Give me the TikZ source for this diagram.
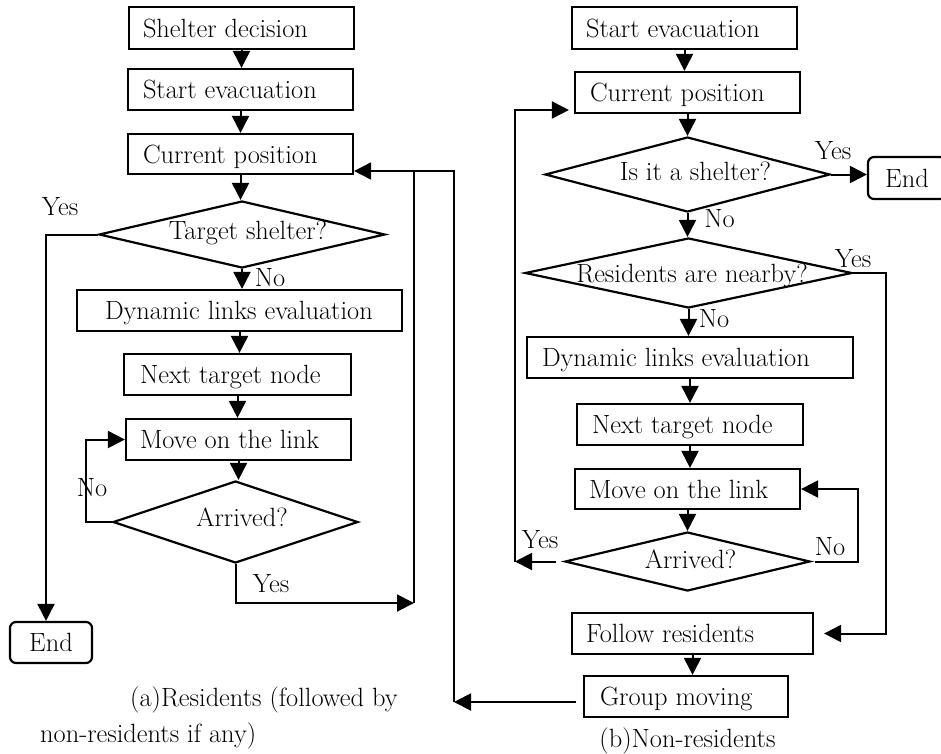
\documentclass[tikz,border=0pt]{standalone}
\usetikzlibrary{arrows.meta,shapes.geometric}
\newcommand\bt[2]{\makebox[#1pt][l]{#2}}
\newcommand\dtxt[3]{\hbox to 0pt{\hss\kern#1pt\raisebox{#2pt}{#3}\hss}}
\begin{document}
\begin{tikzpicture}[x=1pt,y=-1pt,
 every node/.style={font=\fontsize{26.4}{30}\selectfont},
 bx/.style={draw, line width=2.2pt, rectangle, inner ysep=0pt, text height=18pt, text depth=0pt},
 ebox/.style={bx, rounded corners=6pt, inner xsep=0pt},
 dia/.style={draw, line width=2.2pt, diamond, inner sep=0pt, text height=18pt, text depth=0pt},
 lbl/.style={anchor=base, inner sep=0pt},
 ln/.style={line width=2pt},
 arr/.style={line width=2pt, -{Triangle[length=17pt,width=17pt]}},
]
\path[use as bounding box, clip] (0,0) rectangle (941,753);

% ---------- left chart ----------
\node[bx, inner xsep=14pt, minimum height=42pt] (L1) at (241.5,28) {\bt{197}{Shelter decision}};
\node[bx, inner xsep=15pt, minimum height=41pt] (L2) at (240.5,89.5) {\bt{195}{Start evacuation}};
\node[bx, inner xsep=15pt, minimum height=40pt] (L3) at (240.5,154) {\bt{195}{Current position}};
\node[dia, minimum width=286pt, minimum height=67pt] (LD1) at (242,234.5) {\dtxt{12}{4}{Target shelter?}};
\node[bx, inner xsep=28pt, minimum height=41pt] (L4) at (239.5,310.5) {\bt{269}{Dynamic links evaluation}};
\node[bx, inner xsep=16pt, minimum height=41pt] (L5) at (237.5,374.5) {\bt{195}{Next target node}};
\node[bx, inner xsep=14pt, minimum height=41pt] (L6) at (238.5,439.5) {\bt{197}{Move on the link}};
\node[dia, minimum width=245pt, minimum height=82pt] (LD2) at (235.5,522) {\dtxt{13}{4.5}{Arrived?}};
\node[ebox, minimum width=82pt, minimum height=41pt] (LEnd) at (51,642.5) {End};

\coordinate (ja) at (414,603);
\coordinate (jb) at (454,702);
\coordinate (jt) at (454,171);

\draw[arr] (L1.south) -- (L1.south |- L2.north);
\draw[arr] (L2.south) -- (L2.south |- L3.north);
\draw[arr] (L3.south) -- (L3.south |- LD1.north);
\draw[arr] (LD1.south) -- (LD1.south |- L4.north);
\draw[arr] (L4.south) -- (L4.south |- L5.north);
\draw[arr] (L5.south) -- (L5.south |- L6.north);
\draw[arr] (L6.south) -- (L6.south |- LD2.north);
\draw[arr] (LD1.west) -| ([xshift=-5pt]LEnd.north);
\draw[arr] (LD2.west) -- ++(-26,0) |- (L6.west);
\draw[arr] (LD2.south) |- (ja);
\draw[ln] (ja) -- (ja |- jt);

\node[lbl] at (60,215) {Yes};
\node[lbl] at (270,286) {No};
\node[lbl] at (92,496) {No};
\node[lbl] at (271,592) {Yes};
\node[anchor=base west, inner sep=0pt] at (130,706) {(a)Residents (followed by};
\node[anchor=base west, inner sep=0pt] at (40,742) {non-residents if any)};

% ---------- right chart ----------
\node[bx, inner xsep=14pt, minimum height=42pt] (R1) at (684.5,28) {\bt{197}{Start evacuation}};
\node[bx, inner xsep=15pt, minimum height=41pt] (R2) at (687.5,92.5) {\bt{195}{Current position}};
\node[dia, minimum width=285pt, minimum height=75pt] (RD1) at (687.5,174.5) {\dtxt{16}{3}{Is it a shelter?}};
\node[ebox, minimum width=78pt, minimum height=42pt] (REnd) at (907,178) {End};
\node[dia, minimum width=327pt, minimum height=70pt] (RD2) at (688.5,273) {\dtxt{7}{0}{Residents are nearby?}};
\node[bx, inner xsep=15pt, minimum height=41pt] (R3) at (690,357.5) {\bt{296}{Dynamic links evaluation}};
\node[bx, inner xsep=15pt, minimum height=41pt] (R4) at (690,424.5) {\bt{196}{Next target node}};
\node[bx, inner xsep=14pt, minimum height=40pt] (R5) at (687.5,489) {\bt{197}{Move on the link}};
\node[dia, minimum width=245pt, minimum height=59pt] (RD3) at (687.5,561.5) {\dtxt{6}{2}{Arrived?}};
\node[bx, inner xsep=14pt, minimum height=41pt] (R6) at (692.5,633.5) {\bt{213}{Follow residents}};
\node[bx, inner xsep=16pt, minimum height=41pt] (R7) at (686,696.5) {\bt{172}{Group moving}};

\coordinate (kt) at (515,110);
\coordinate (kb) at (515,561.5);

\draw[arr] (R1.south) -- (R1.south |- R2.north);
\draw[arr] (R2.south) -- (R2.south |- RD1.north);
\draw[arr] (RD1.east) -- (RD1.east -| REnd.west);
\draw[arr] (RD1.south) -- (RD1.south |- RD2.north);
\draw[arr] (RD2.south) -- (RD2.south |- R3.north);
\draw[arr] (RD2.east) -- ++(33,0) |- ([xshift=10pt]R6.east);
\draw[arr] (R3.south) -- (R3.south |- R4.north);
\draw[arr] (R4.south) -- (R4.south |- R5.north);
\draw[arr] (R5.south) -- (R5.south |- RD3.north);
\draw[arr] ([xshift=4pt]RD3.east) -- ++(43,0) |- (R5.east);
\draw[arr] ([xshift=-8pt]RD3.west) -- (kb);
\draw[arr] (kb) -- (kt) -- ([xshift=-5pt]R2.west |- kt);
\draw[arr] (R6.south) -- (R6.south |- R7.north);
\draw[arr] ([shift={(-7,5.5)}]R7.west) -- (jb);
\draw[arr] (jb) -- (jt) -- (L3.east |- jt);

\node[lbl] at (833,159) {Yes};
\node[lbl] at (719.5,227) {No};
\node[lbl] at (853,267) {Yes};
\node[lbl] at (714,327) {No};
\node[lbl] at (830,555) {No};
\node[lbl] at (540,548) {Yes};
\node[lbl] at (687.5,747) {(b)Non-residents};
\end{tikzpicture}
\end{document}
